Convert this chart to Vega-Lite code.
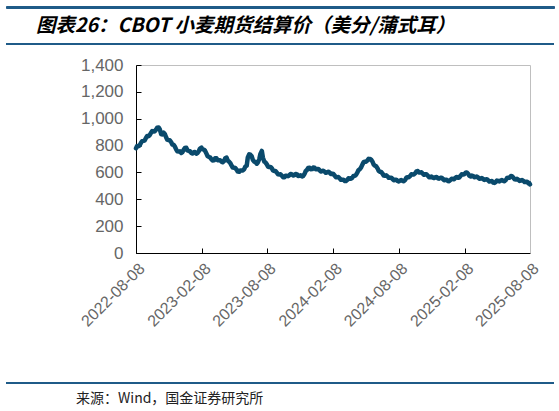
{
  "$schema": "https://vega.github.io/schema/vega-lite/v6.json",
  "background": "white",
  "padding": {"left": 5, "top": 2, "right": 6, "bottom": 0},
  "spacing": 0,
  "bounds": "full",
  "align": "none",
  "datasets": {
    "none": [],
    "wheat": [
      {"date": "2022-08-08", "price": 780}, {"date": "2022-08-11", "price": 796}, {"date": "2022-08-15", "price": 795}, {"date": "2022-08-18", "price": 801},
      {"date": "2022-08-22", "price": 821}, {"date": "2022-08-25", "price": 833}, {"date": "2022-08-29", "price": 835}, {"date": "2022-09-01", "price": 838},
      {"date": "2022-09-05", "price": 859}, {"date": "2022-09-08", "price": 871}, {"date": "2022-09-12", "price": 870}, {"date": "2022-09-15", "price": 877},
      {"date": "2022-09-19", "price": 896}, {"date": "2022-09-22", "price": 908}, {"date": "2022-09-26", "price": 905}, {"date": "2022-09-29", "price": 907},
      {"date": "2022-10-03", "price": 920}, {"date": "2022-10-06", "price": 933}, {"date": "2022-10-10", "price": 935}, {"date": "2022-10-13", "price": 922},
      {"date": "2022-10-17", "price": 886}, {"date": "2022-10-20", "price": 883}, {"date": "2022-10-24", "price": 896}, {"date": "2022-10-27", "price": 887},
      {"date": "2022-10-31", "price": 860}, {"date": "2022-11-03", "price": 844}, {"date": "2022-11-07", "price": 840}, {"date": "2022-11-10", "price": 840},
      {"date": "2022-11-14", "price": 825}, {"date": "2022-11-17", "price": 808}, {"date": "2022-11-21", "price": 805}, {"date": "2022-11-24", "price": 793},
      {"date": "2022-11-28", "price": 770}, {"date": "2022-12-01", "price": 757}, {"date": "2022-12-05", "price": 755}, {"date": "2022-12-08", "price": 757},
      {"date": "2022-12-12", "price": 745}, {"date": "2022-12-15", "price": 751}, {"date": "2022-12-19", "price": 770}, {"date": "2022-12-22", "price": 782},
      {"date": "2022-12-26", "price": 784}, {"date": "2022-12-29", "price": 764}, {"date": "2023-01-02", "price": 760}, {"date": "2023-01-05", "price": 758},
      {"date": "2023-01-09", "price": 745}, {"date": "2023-01-12", "price": 741}, {"date": "2023-01-16", "price": 750}, {"date": "2023-01-19", "price": 752},
      {"date": "2023-01-23", "price": 740}, {"date": "2023-01-26", "price": 744}, {"date": "2023-01-30", "price": 760}, {"date": "2023-02-02", "price": 778},
      {"date": "2023-02-06", "price": 785}, {"date": "2023-02-09", "price": 772}, {"date": "2023-02-13", "price": 770}, {"date": "2023-02-16", "price": 762},
      {"date": "2023-02-20", "price": 740}, {"date": "2023-02-23", "price": 722}, {"date": "2023-02-27", "price": 715}, {"date": "2023-03-02", "price": 712},
      {"date": "2023-03-06", "price": 698}, {"date": "2023-03-09", "price": 689}, {"date": "2023-03-13", "price": 690}, {"date": "2023-03-16", "price": 705},
      {"date": "2023-03-20", "price": 705}, {"date": "2023-03-23", "price": 691}, {"date": "2023-03-27", "price": 690}, {"date": "2023-03-30", "price": 691},
      {"date": "2023-04-03", "price": 680}, {"date": "2023-04-06", "price": 676}, {"date": "2023-04-10", "price": 685}, {"date": "2023-04-13", "price": 705},
      {"date": "2023-04-17", "price": 710}, {"date": "2023-04-20", "price": 689}, {"date": "2023-04-24", "price": 680}, {"date": "2023-04-27", "price": 671},
      {"date": "2023-05-01", "price": 650}, {"date": "2023-05-04", "price": 636}, {"date": "2023-05-08", "price": 635}, {"date": "2023-05-11", "price": 633},
      {"date": "2023-05-15", "price": 620}, {"date": "2023-05-18", "price": 606}, {"date": "2023-05-22", "price": 605}, {"date": "2023-05-25", "price": 615},
      {"date": "2023-05-29", "price": 615}, {"date": "2023-06-01", "price": 614}, {"date": "2023-06-05", "price": 625}, {"date": "2023-06-08", "price": 643},
      {"date": "2023-06-12", "price": 650}, {"date": "2023-06-15", "price": 712}, {"date": "2023-06-19", "price": 735}, {"date": "2023-06-22", "price": 732},
      {"date": "2023-06-26", "price": 720}, {"date": "2023-06-29", "price": 694}, {"date": "2023-07-03", "price": 680}, {"date": "2023-07-06", "price": 677},
      {"date": "2023-07-10", "price": 665}, {"date": "2023-07-13", "price": 674}, {"date": "2023-07-17", "price": 700}, {"date": "2023-07-20", "price": 738},
      {"date": "2023-07-24", "price": 760}, {"date": "2023-07-27", "price": 710}, {"date": "2023-07-31", "price": 680}, {"date": "2023-08-03", "price": 675},
      {"date": "2023-08-07", "price": 660}, {"date": "2023-08-10", "price": 644}, {"date": "2023-08-14", "price": 640}, {"date": "2023-08-17", "price": 641},
      {"date": "2023-08-21", "price": 630}, {"date": "2023-08-24", "price": 615}, {"date": "2023-08-28", "price": 610}, {"date": "2023-08-31", "price": 610},
      {"date": "2023-09-04", "price": 598}, {"date": "2023-09-07", "price": 586}, {"date": "2023-09-11", "price": 585}, {"date": "2023-09-14", "price": 586},
      {"date": "2023-09-18", "price": 575}, {"date": "2023-09-21", "price": 565}, {"date": "2023-09-25", "price": 565}, {"date": "2023-09-28", "price": 576},
      {"date": "2023-10-02", "price": 575}, {"date": "2023-10-05", "price": 572}, {"date": "2023-10-09", "price": 580}, {"date": "2023-10-12", "price": 589},
      {"date": "2023-10-16", "price": 586}, {"date": "2023-10-19", "price": 577}, {"date": "2023-10-23", "price": 580}, {"date": "2023-10-26", "price": 589},
      {"date": "2023-10-30", "price": 586}, {"date": "2023-11-02", "price": 574}, {"date": "2023-11-06", "price": 575}, {"date": "2023-11-09", "price": 578},
      {"date": "2023-11-13", "price": 570}, {"date": "2023-11-16", "price": 574}, {"date": "2023-11-20", "price": 590}, {"date": "2023-11-23", "price": 610},
      {"date": "2023-11-27", "price": 620}, {"date": "2023-11-30", "price": 633}, {"date": "2023-12-04", "price": 635}, {"date": "2023-12-07", "price": 624},
      {"date": "2023-12-11", "price": 625}, {"date": "2023-12-14", "price": 636}, {"date": "2023-12-18", "price": 635}, {"date": "2023-12-21", "price": 624},
      {"date": "2023-12-25", "price": 625}, {"date": "2023-12-28", "price": 626}, {"date": "2024-01-01", "price": 615}, {"date": "2024-01-04", "price": 607},
      {"date": "2024-01-08", "price": 610}, {"date": "2024-01-11", "price": 613}, {"date": "2024-01-15", "price": 605}, {"date": "2024-01-18", "price": 597},
      {"date": "2024-01-22", "price": 600}, {"date": "2024-01-25", "price": 605}, {"date": "2024-01-29", "price": 598}, {"date": "2024-02-01", "price": 589},
      {"date": "2024-02-05", "price": 590}, {"date": "2024-02-08", "price": 588}, {"date": "2024-02-12", "price": 575}, {"date": "2024-02-15", "price": 565},
      {"date": "2024-02-19", "price": 565}, {"date": "2024-02-22", "price": 566}, {"date": "2024-02-26", "price": 555}, {"date": "2024-02-29", "price": 545},
      {"date": "2024-03-04", "price": 545}, {"date": "2024-03-07", "price": 546}, {"date": "2024-03-11", "price": 536}, {"date": "2024-03-14", "price": 536},
      {"date": "2024-03-18", "price": 545}, {"date": "2024-03-21", "price": 556}, {"date": "2024-03-25", "price": 555}, {"date": "2024-03-28", "price": 553},
      {"date": "2024-04-01", "price": 561}, {"date": "2024-04-04", "price": 574}, {"date": "2024-04-08", "price": 575}, {"date": "2024-04-11", "price": 582},
      {"date": "2024-04-15", "price": 600}, {"date": "2024-04-18", "price": 618}, {"date": "2024-04-22", "price": 625}, {"date": "2024-04-25", "price": 637},
      {"date": "2024-04-29", "price": 660}, {"date": "2024-05-02", "price": 676}, {"date": "2024-05-06", "price": 680}, {"date": "2024-05-09", "price": 680},
      {"date": "2024-05-13", "price": 690}, {"date": "2024-05-16", "price": 701}, {"date": "2024-05-20", "price": 700}, {"date": "2024-05-23", "price": 695},
      {"date": "2024-05-27", "price": 680}, {"date": "2024-05-30", "price": 659}, {"date": "2024-06-03", "price": 650}, {"date": "2024-06-06", "price": 646},
      {"date": "2024-06-10", "price": 630}, {"date": "2024-06-13", "price": 612}, {"date": "2024-06-17", "price": 605}, {"date": "2024-06-20", "price": 603},
      {"date": "2024-06-24", "price": 590}, {"date": "2024-06-27", "price": 577}, {"date": "2024-07-01", "price": 575}, {"date": "2024-07-04", "price": 578},
      {"date": "2024-07-08", "price": 570}, {"date": "2024-07-11", "price": 560}, {"date": "2024-07-15", "price": 560}, {"date": "2024-07-18", "price": 561},
      {"date": "2024-07-22", "price": 550}, {"date": "2024-07-25", "price": 542}, {"date": "2024-07-29", "price": 545}, {"date": "2024-08-01", "price": 545},
      {"date": "2024-08-05", "price": 536}, {"date": "2024-08-08", "price": 532}, {"date": "2024-08-12", "price": 540}, {"date": "2024-08-15", "price": 544},
      {"date": "2024-08-19", "price": 536}, {"date": "2024-08-22", "price": 535}, {"date": "2024-08-26", "price": 545}, {"date": "2024-08-29", "price": 561},
      {"date": "2024-09-02", "price": 565}, {"date": "2024-09-05", "price": 565}, {"date": "2024-09-09", "price": 575}, {"date": "2024-09-12", "price": 586},
      {"date": "2024-09-16", "price": 585}, {"date": "2024-09-19", "price": 585}, {"date": "2024-09-23", "price": 595}, {"date": "2024-09-26", "price": 608},
      {"date": "2024-09-30", "price": 610}, {"date": "2024-10-03", "price": 600}, {"date": "2024-10-07", "price": 600}, {"date": "2024-10-10", "price": 601},
      {"date": "2024-10-14", "price": 590}, {"date": "2024-10-17", "price": 583}, {"date": "2024-10-21", "price": 586}, {"date": "2024-10-24", "price": 586},
      {"date": "2024-10-28", "price": 575}, {"date": "2024-10-31", "price": 565}, {"date": "2024-11-04", "price": 565}, {"date": "2024-11-07", "price": 569},
      {"date": "2024-11-11", "price": 561}, {"date": "2024-11-14", "price": 558}, {"date": "2024-11-18", "price": 565}, {"date": "2024-11-21", "price": 566},
      {"date": "2024-11-25", "price": 556}, {"date": "2024-11-28", "price": 553}, {"date": "2024-12-02", "price": 560}, {"date": "2024-12-05", "price": 561},
      {"date": "2024-12-09", "price": 550}, {"date": "2024-12-12", "price": 542}, {"date": "2024-12-16", "price": 545}, {"date": "2024-12-19", "price": 546},
      {"date": "2024-12-23", "price": 536}, {"date": "2024-12-26", "price": 535}, {"date": "2024-12-30", "price": 545}, {"date": "2025-01-02", "price": 553},
      {"date": "2025-01-06", "price": 550}, {"date": "2025-01-09", "price": 550}, {"date": "2025-01-13", "price": 561}, {"date": "2025-01-16", "price": 566},
      {"date": "2025-01-20", "price": 560}, {"date": "2025-01-23", "price": 562}, {"date": "2025-01-27", "price": 575}, {"date": "2025-01-30", "price": 586},
      {"date": "2025-02-03", "price": 585}, {"date": "2025-02-06", "price": 586}, {"date": "2025-02-10", "price": 598}, {"date": "2025-02-13", "price": 600},
      {"date": "2025-02-17", "price": 590}, {"date": "2025-02-20", "price": 575}, {"date": "2025-02-24", "price": 570}, {"date": "2025-02-27", "price": 577},
      {"date": "2025-03-03", "price": 573}, {"date": "2025-03-06", "price": 564}, {"date": "2025-03-10", "price": 565}, {"date": "2025-03-13", "price": 569},
      {"date": "2025-03-17", "price": 561}, {"date": "2025-03-20", "price": 553}, {"date": "2025-03-24", "price": 555}, {"date": "2025-03-27", "price": 558},
      {"date": "2025-03-31", "price": 550}, {"date": "2025-04-03", "price": 544}, {"date": "2025-04-07", "price": 548}, {"date": "2025-04-10", "price": 550},
      {"date": "2025-04-14", "price": 540}, {"date": "2025-04-17", "price": 532}, {"date": "2025-04-21", "price": 535}, {"date": "2025-04-24", "price": 536},
      {"date": "2025-04-28", "price": 524}, {"date": "2025-05-01", "price": 522}, {"date": "2025-05-05", "price": 530}, {"date": "2025-05-08", "price": 539},
      {"date": "2025-05-12", "price": 536}, {"date": "2025-05-15", "price": 533}, {"date": "2025-05-19", "price": 540}, {"date": "2025-05-22", "price": 544},
      {"date": "2025-05-26", "price": 536}, {"date": "2025-05-29", "price": 535}, {"date": "2025-06-02", "price": 545}, {"date": "2025-06-05", "price": 558},
      {"date": "2025-06-09", "price": 560}, {"date": "2025-06-12", "price": 561}, {"date": "2025-06-16", "price": 573}, {"date": "2025-06-19", "price": 572},
      {"date": "2025-06-23", "price": 560}, {"date": "2025-06-26", "price": 549}, {"date": "2025-06-30", "price": 548}, {"date": "2025-07-03", "price": 552},
      {"date": "2025-07-07", "price": 545}, {"date": "2025-07-10", "price": 537}, {"date": "2025-07-14", "price": 540}, {"date": "2025-07-17", "price": 544},
      {"date": "2025-07-21", "price": 536}, {"date": "2025-07-24", "price": 528}, {"date": "2025-07-28", "price": 530}, {"date": "2025-07-31", "price": 530},
      {"date": "2025-08-04", "price": 518}, {"date": "2025-08-06", "price": 520}, {"date": "2025-08-08", "price": 511}
    ]
  },
  "vconcat": [
    {
      "width": 548, "height": 3,
      "view": {"fill": null, "stroke": null},
      "data": {"name": "none"},
      "mark": "point"
    },
    {
      "width": 548, "height": 2,
      "view": {"fill": "#1f5b88", "stroke": "#1f5b88", "strokeWidth": 1},
      "data": {"name": "none"},
      "mark": "point",
      "title": {
        "text": "图表26：CBOT 小麦期货结算价（美分/蒲式耳）",
        "orient": "bottom", "anchor": "start", "frame": "group",
        "offset": 9, "dx": 30,
        "font": "Noto Sans CJK SC", "fontSize": 19.5, "fontWeight": "bold", "fontStyle": "italic", "color": "#000000"
      }
    },
    {
      "width": 548, "height": 7,
      "view": {"fill": null, "stroke": null},
      "data": {"name": "none"},
      "mark": "point"
    },
    {
      "width": 548, "height": 2,
      "view": {"fill": "#1f5b88", "stroke": null},
      "data": {"name": "none"},
      "mark": "point"
    },
    {
      "width": 548, "height": 11,
      "view": {"fill": null, "stroke": null},
      "data": {"name": "none"},
      "mark": "point"
    },
    {
      "width": 524, "height": 188,
      "view": {"stroke": null, "fill": null},
      "resolve": {"axis": {"x": "independent", "y": "independent"}},
      "layer": [
        {
          "data": {"name": "wheat"},
          "mark": {"type": "line", "color": "#0a4a6c", "strokeWidth": 4.5, "strokeJoin": "round", "strokeCap": "round"},
          "encoding": {
            "x": {
              "field": "date", "type": "temporal",
              "scale": {"domain": [{"year": 2022, "month": 8, "date": 8}, {"year": 2025, "month": 8, "date": 8}], "nice": false, "range": [130, 524]},
              "axis": {
                "title": null, "grid": false,
                "values": [
                  {"year": 2022, "month": 8, "date": 8}, {"year": 2023, "month": 2, "date": 8},
                  {"year": 2023, "month": 8, "date": 8}, {"year": 2024, "month": 2, "date": 8},
                  {"year": 2024, "month": 8, "date": 8}, {"year": 2025, "month": 2, "date": 8},
                  {"year": 2025, "month": 8, "date": 8}
                ],
                "format": "%Y-%m-%d", "labelAngle": -45,
                "labelFont": "Liberation Sans", "labelFontSize": 16, "labelColor": "#666666",
                "domainColor": "#000000", "domainWidth": 1,
                "tickColor": "#000000", "tickSize": -5, "tickWidth": 1,
                "labelPadding": 12, "labelOverlap": false, "labelFlush": false
              }
            },
            "y": {
              "field": "price", "type": "quantitative",
              "scale": {"domain": [0, 1400], "nice": false},
              "axis": {
                "title": null, "grid": false, "offset": -130,
                "values": [0, 200, 400, 600, 800, 1000, 1200, 1400],
                "format": ",.0f",
                "labelFont": "Liberation Sans", "labelFontSize": 17, "labelColor": "#666666",
                "domainColor": "#000000", "domainWidth": 1,
                "tickColor": "#000000", "tickSize": -5, "tickWidth": 1,
                "labelPadding": 18, "minExtent": 0, "labelOverlap": false
              }
            }
          }
        },
        {
          "data": {"name": "none"},
          "mark": "point",
          "encoding": {
            "x": {
              "field": "date", "type": "temporal",
              "axis": {"orient": "top", "title": null, "grid": false, "labels": false, "ticks": false, "domainColor": "#bfbfbf", "domainWidth": 1, "minExtent": 0}
            },
            "y": {
              "field": "price", "type": "quantitative",
              "axis": {"orient": "right", "title": null, "grid": false, "labels": false, "ticks": false, "domainColor": "#bfbfbf", "domainWidth": 1, "minExtent": 0}
            }
          }
        }
      ]
    },
    {
      "width": 548, "height": 52,
      "view": {"fill": null, "stroke": null},
      "data": {"name": "none"},
      "mark": "point"
    },
    {
      "width": 548, "height": 2,
      "view": {"fill": "#1f5b88", "stroke": null},
      "data": {"name": "none"},
      "mark": "point",
      "title": {
        "text": "来源：Wind，国金证券研究所",
        "orient": "bottom", "anchor": "start", "frame": "group",
        "offset": 8, "dx": 70,
        "font": "Noto Sans CJK SC", "fontSize": 14, "fontWeight": "normal", "color": "#222222"
      }
    }
  ]
}
